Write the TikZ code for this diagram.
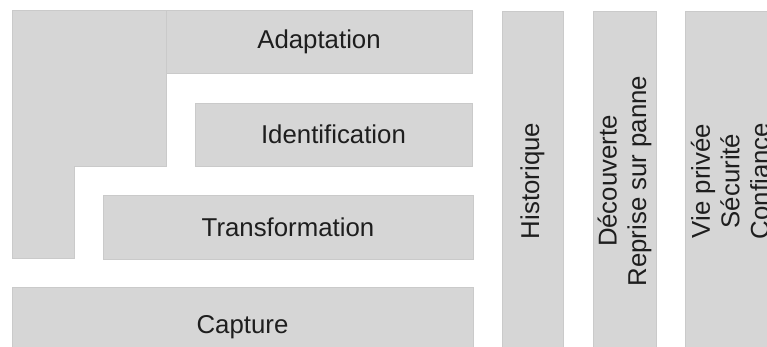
\documentclass[tikz,border=0pt]{standalone}
\usepackage{fontspec}
\setmainfont{Liberation Sans}
\definecolor{boxfill}{RGB}{214,214,214}
\definecolor{boxedge}{RGB}{202,202,202}
\definecolor{txt}{RGB}{30,30,30}
\begin{document}
\begin{tikzpicture}[x=1pt,y=-1pt,
  box/.style={draw=boxedge, line width=0.7pt, fill=boxfill, inner sep=0pt, outer sep=0pt,
    text=txt, align=center, font=\fontsize{25.8}{29.5}\selectfont},
  vbox/.style={box, rotate=90},
  edge/.style={draw=boxedge, line width=0.7pt}]
\useasboundingbox (0,0) rectangle (767,346);
\clip (0,0) rectangle (767,346);
\fill[white] (0,0) rectangle (767,346);
% left L-shaped blocks
\node[box, minimum width=62pt, minimum height=248pt] (colA) at (43,134) {};
\node[box, draw=none, minimum width=121pt, minimum height=156pt] (colB) at (105.5,88) {};
\node[box, minimum width=306pt, minimum height=63pt] (adapt) at (319,41.5) {Adaptation};
\draw[edge] (colB.north west) -- (colB.north east);
\draw[edge] (colA.east |- colB.south) -- (colB.south east) -- (colB.east |- adapt.south);
\node[box, minimum width=277pt, minimum height=63pt] (ident) at (333.5,134.5) {Identification};
\node[box, minimum width=370pt, minimum height=64pt] (trans) at (288,227) {Transformation};
\node[box, minimum width=461pt, minimum height=80pt] (capt) at (242.5,327) {Capture};
% vertical columns
\node[vbox, minimum width=340pt, minimum height=61pt] (hist) at (532.5,181) {Historique};
\node[vbox, minimum width=340pt, minimum height=63pt] (decouv) at (624.5,181) {Découverte\\Reprise sur panne};
\node[vbox, minimum width=340pt, minimum height=90pt] (vie) at (730,181) {Vie privée\\Sécurité\\Confiance};
\end{tikzpicture}
\end{document}
